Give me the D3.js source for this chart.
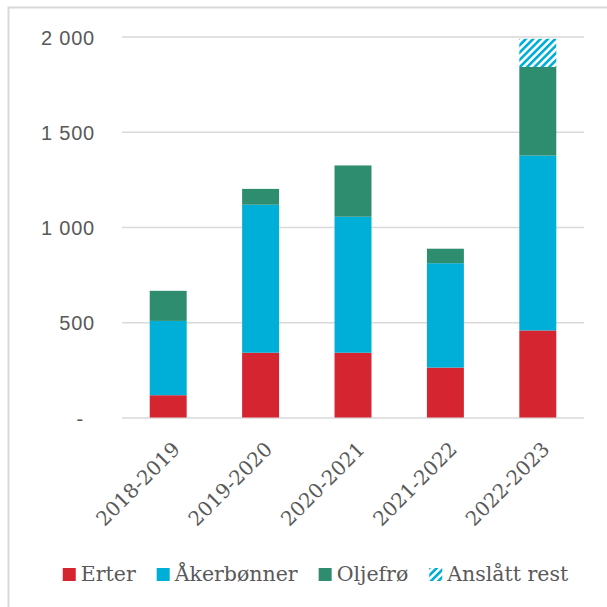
<!DOCTYPE html>
<meta charset="utf-8">
<head>
<script src="https://d3js.org/d3.v7.min.js"></script>
</head>
<style>
  body { margin: 0; background: #fff; }
  svg { display: block; font-family: "DejaVu Serif", Georgia, serif; }
  .y.axis .tick text { fill: #595959; font-size: 20px; letter-spacing: 0.8px; }
  .x.axis .tick text { fill: #595959; font-size: 20px; }
  .legend text { fill: #595959; font-size: 20.5px; }
</style>
<body>
<script>
  var categories = ["2018-2019", "2019-2020", "2020-2021", "2021-2022", "2022-2023"];
  var erter      = [117, 340, 340, 262, 457];
  var akerbonner = [390, 777, 714, 548, 918];
  var oljefro    = [158, 83, 269, 76, 465];
  var anslattRest = [0, 0, 0, 0, 148];
  var seriesNames = ["Erter", "Åkerbønner", "Oljefrø", "Anslått rest"];
  var yTicks = [0, 500, 1000, 1500, 2000];

  var W = 607, H = 607;
  var margin = {top: 36.5, left: 122, right: 23, bottom: 189.5};
  var width = W - margin.left - margin.right,
      height = H - margin.top - margin.bottom;

  var colors = {
    "Erter": "#d52531",
    "Åkerbønner": "#00afd7",
    "Oljefrø": "#2e8c6f",
    "Anslått rest": "url(#hatch)"
  };

  var rows = categories.map(function(c, i) {
    return {cat: c, "Erter": erter[i], "Åkerbønner": akerbonner[i], "Oljefrø": oljefro[i], "Anslått rest": anslattRest[i]};
  });

  var svg = d3.select("body").append("svg")
    .attr("width", W)
    .attr("height", H);

  // hatch pattern for the estimated rest
  var pat = svg.append("defs").append("pattern")
    .attr("id", "hatch")
    .attr("patternUnits", "userSpaceOnUse")
    .attr("width", 5.2)
    .attr("height", 5.2)
    .attr("patternTransform", "rotate(45)");
  pat.append("rect").attr("width", 5.2).attr("height", 5.2).attr("fill", "#fff");
  pat.append("rect").attr("width", 2.6).attr("height", 5.2).attr("fill", "#00afd7");

  // frame (only top and left edges show in the crop)
  svg.append("path")
    .attr("d", "M8.5,607V7.5H607")
    .attr("fill", "none")
    .attr("stroke", "#d9d9d9")
    .attr("stroke-width", 2);

  var g = svg.append("g")
    .attr("transform", "translate(" + margin.left + "," + margin.top + ")");

  var x = d3.scaleBand()
    .domain(categories)
    .range([0, width])
    .paddingInner(0.6)
    .paddingOuter(0.3);

  var y = d3.scaleLinear()
    .domain([0, 2000])
    .range([height, 0]);

  var yAxis = g.append("g")
    .attr("class", "y axis")
    .call(d3.axisLeft(y)
      .tickValues(yTicks)
      .tickSize(-width)
      .tickPadding(27)
      .tickFormat(function(d) { return d === 0 ? "-" : d3.format(",")(d).replace(",", " "); }));
  yAxis.select(".domain").remove();
  yAxis.selectAll(".tick line")
    .attr("stroke", "#d9d9d9")
    .attr("stroke-width", 1.6);
  yAxis.selectAll(".tick text")
    .attr("dy", "0.38em")
    .filter(function(d) { return d === 0; })
    .attr("dx", -11);

  var stack = d3.stack().keys(seriesNames);
  var layers = stack(rows);

  g.selectAll(".layer")
    .data(layers)
   .enter().append("g")
    .attr("class", "layer")
    .attr("fill", function(d) { return colors[d.key]; })
    .selectAll("rect")
    .data(function(d) { return d; })
   .enter().append("rect")
    .attr("x", function(d) { return x(d.data.cat); })
    .attr("y", function(d) { return y(d[1]); })
    .attr("width", x.bandwidth())
    .attr("height", function(d) { return y(d[0]) - y(d[1]); });

  // category labels, rotated
  g.append("g")
    .attr("class", "x axis")
    .selectAll(".tick")
    .data(categories)
   .enter().append("g")
    .attr("class", "tick")
    .attr("transform", function(d) {
      return "translate(" + (x(d) + x.bandwidth() / 2 + 8) + "," + (height + 28) + ") rotate(-45)";
    })
   .append("text")
    .attr("text-anchor", "end")
    .attr("dy", "0.35em")
    .text(function(d) { return d; });

  // legend
  var legend = svg.append("g")
    .attr("class", "legend")
    .attr("transform", "translate(0,581)");

  var item = legend.selectAll("g")
    .data(seriesNames)
   .enter().append("g");

  item.append("rect")
    .attr("y", -13)
    .attr("width", 13)
    .attr("height", 13)
    .attr("fill", function(d) { return colors[d]; });

  item.append("text")
    .attr("x", 18)
    .text(function(d) { return d; });

  var pos = 0, offsets = [];
  item.each(function() {
    offsets.push(pos);
    pos += 18 + this.querySelector("text").getComputedTextLength() + 21;
  });
  var total = pos - 21;
  var start = 315.5 - total / 2;
  item.attr("transform", function(d, i) { return "translate(" + (start + offsets[i]) + ",0)"; });
</script>
</body>
